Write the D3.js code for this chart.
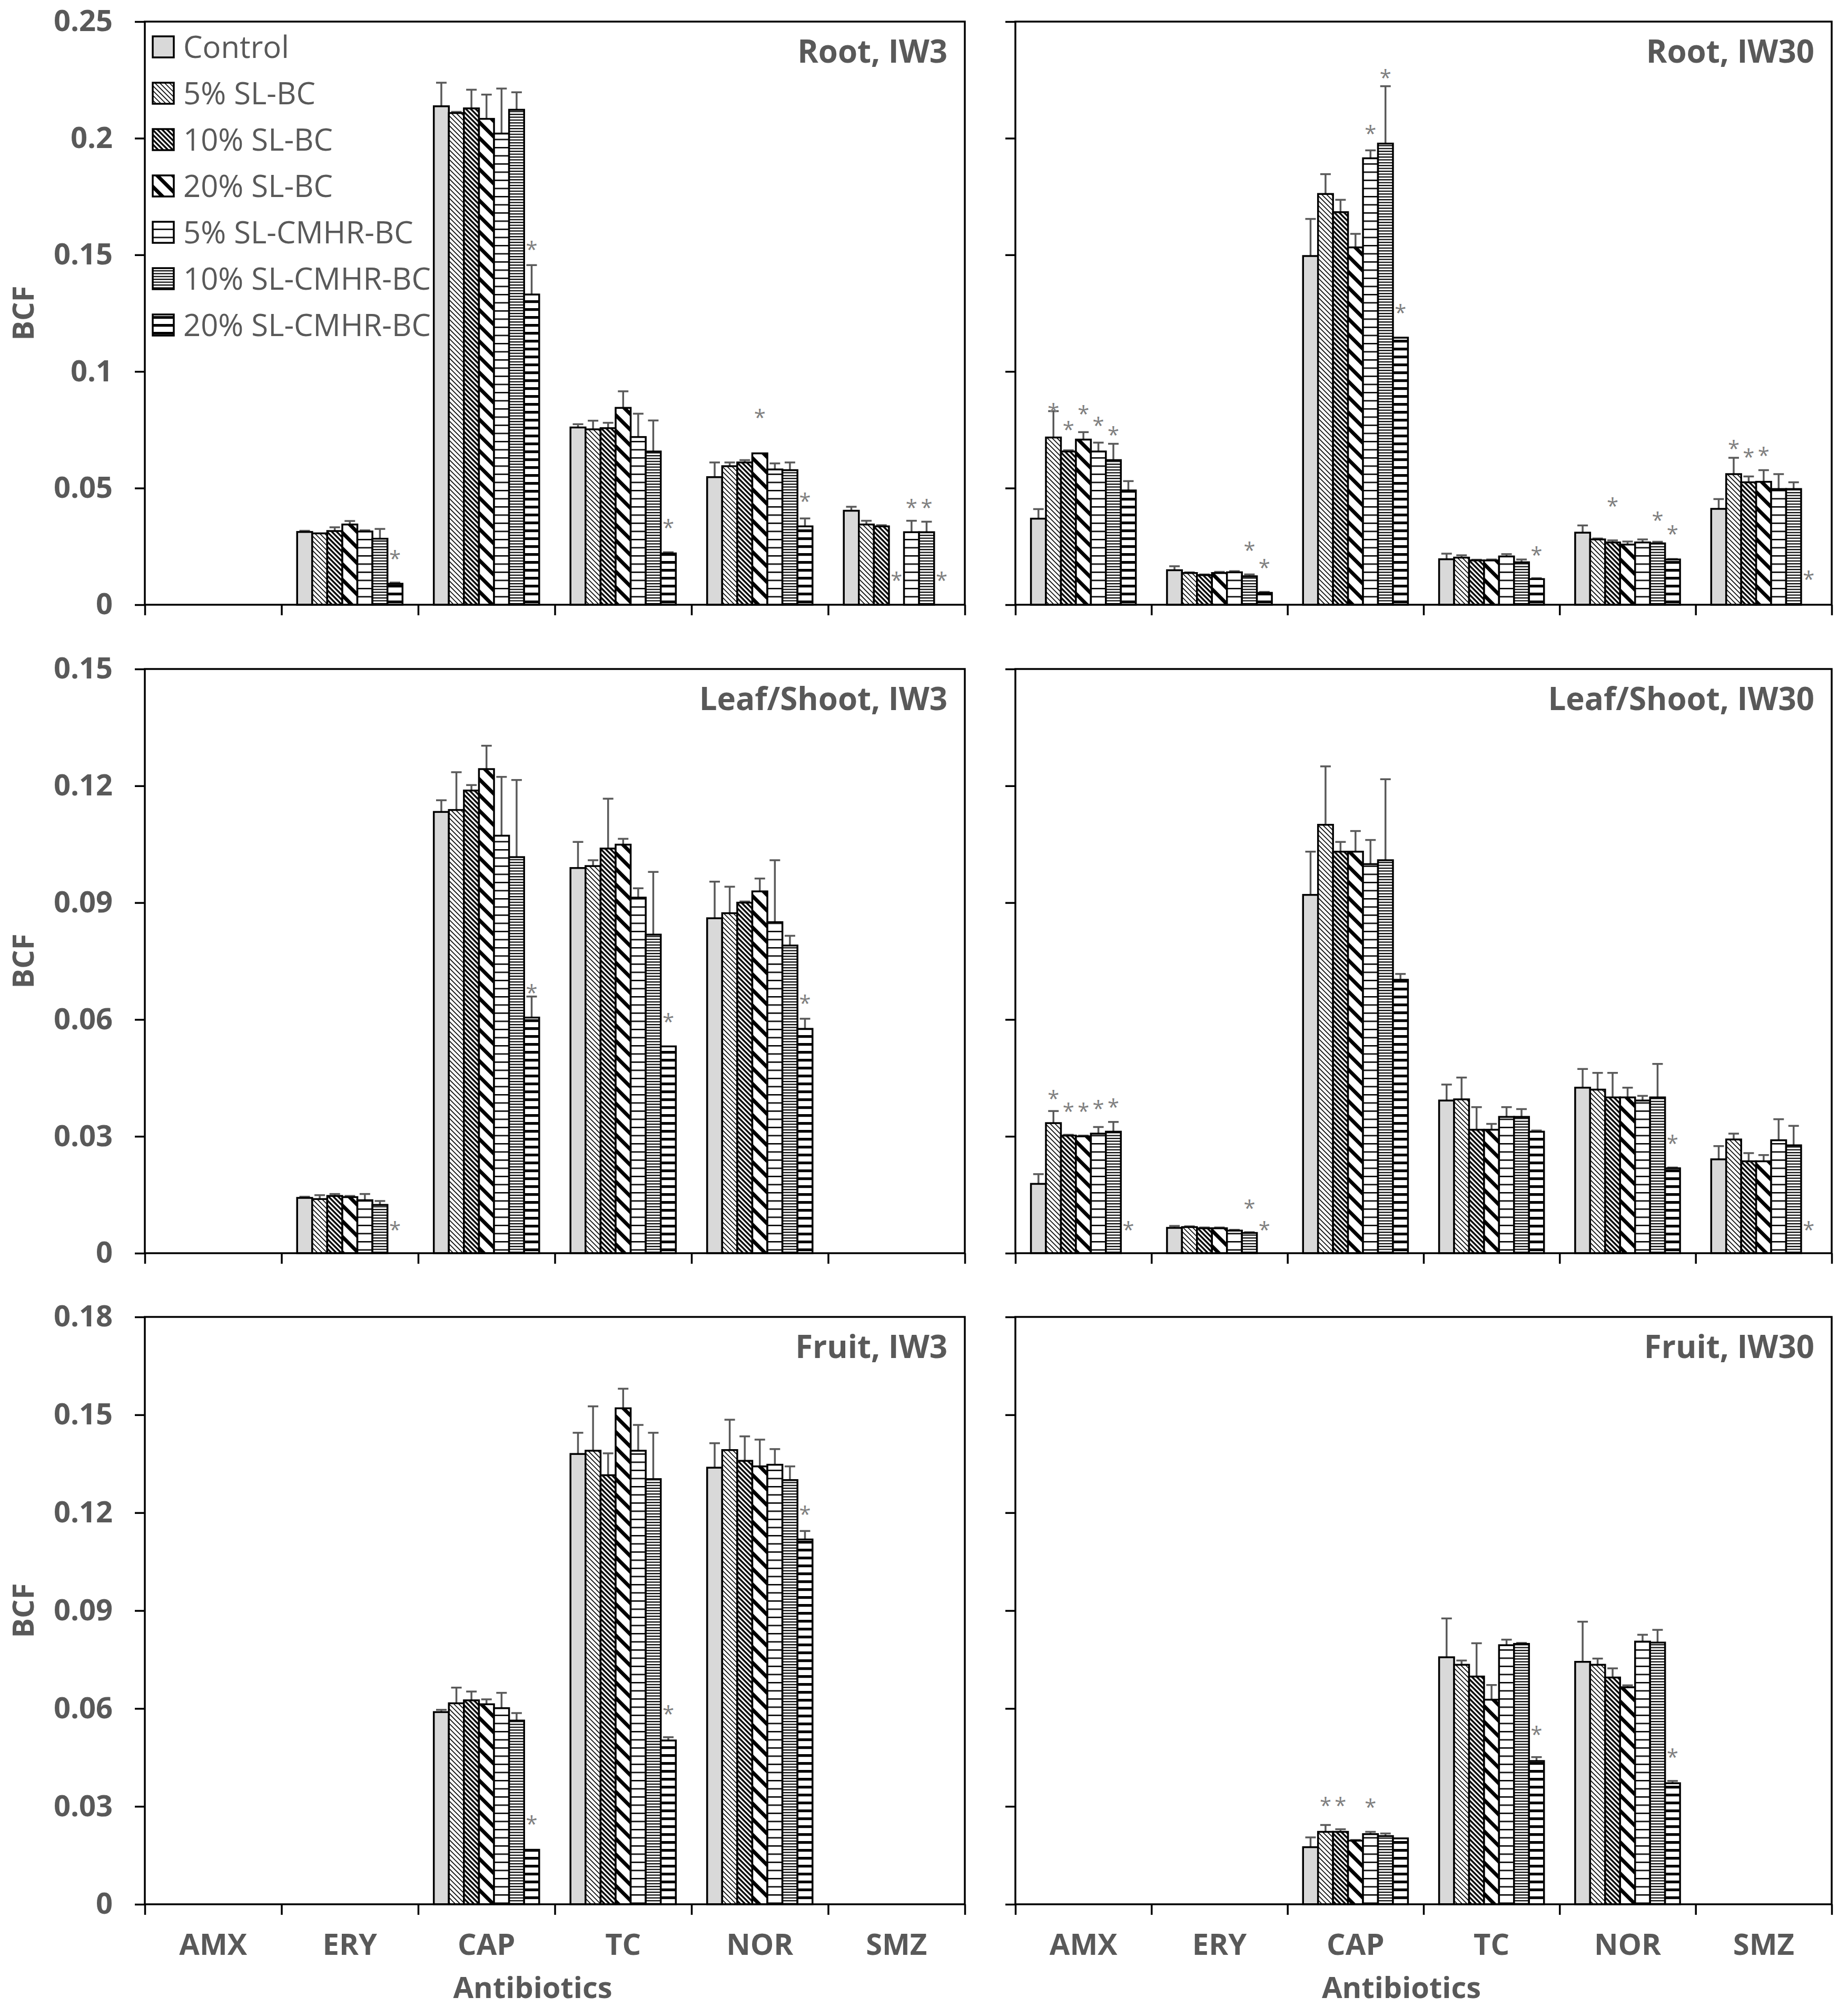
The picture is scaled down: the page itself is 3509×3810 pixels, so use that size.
<!DOCTYPE html>
<html>
<head>
<meta charset="utf-8">
<script src="https://cdn.jsdelivr.net/npm/d3@7"></script>
<style>
body { margin: 0; background: #fff; }
text { font-family: "Open Sans", "Noto Sans", sans-serif; }
</style>
</head>
<body>
<script>
var categories = ["AMX", "ERY", "CAP", "TC", "NOR", "SMZ"];
var series = ["Control", "5% SL-BC", "10% SL-BC", "20% SL-BC",
              "5% SL-CMHR-BC", "10% SL-CMHR-BC", "20% SL-CMHR-BC"];

var rootTicks = [0, 0.05, 0.1, 0.15, 0.2, 0.25];
var leafTicks = [0, 0.03, 0.06, 0.09, 0.12, 0.15];
var fruitTicks = [0, 0.03, 0.06, 0.09, 0.12, 0.15, 0.18];

// one row per antibiotic, one value per treatment
var rootIW3 = [
  [0, 0, 0, 0, 0, 0, 0],
  [0.0312, 0.0306, 0.0316, 0.0344, 0.0314, 0.0283, 0.0090],
  [0.2137, 0.2108, 0.2128, 0.2083, 0.2020, 0.2122, 0.1330],
  [0.0760, 0.0752, 0.0757, 0.0844, 0.0719, 0.0657, 0.0220],
  [0.0547, 0.0594, 0.0610, 0.0649, 0.0580, 0.0577, 0.0336],
  [0.0403, 0.0344, 0.0336, 0, 0.0311, 0.0311, 0]
];
var rootIW3Err = [
  [0, 0, 0, 0, 0, 0, 0],
  [0.0005, 0, 0.0016, 0.0015, 0.0005, 0.0042, 0.0005],
  [0.0101, 0.0005, 0.0080, 0.0104, 0.0193, 0.0075, 0.0126],
  [0.0014, 0.0037, 0.0023, 0.0071, 0.0100, 0.0133, 0.0005],
  [0.0063, 0.0016, 0.0010, 0, 0.0026, 0.0033, 0.0034],
  [0.0017, 0.0016, 0.0005, 0, 0.0049, 0.0045, 0]
];
var rootIW3Stars = [[1, 6, 0.0214], [2, 6, 0.154], [3, 6, 0.0348], [4, 3, 0.0819],
  [4, 6, 0.046], [5, 3, 0.0123], [5, 4, 0.0433], [5, 5, 0.0433], [5, 6, 0.0123]];

var rootIW30 = [
  [0.0369, 0.0717, 0.0657, 0.0708, 0.0657, 0.0620, 0.0490],
  [0.0148, 0.0136, 0.0127, 0.0136, 0.0139, 0.0122, 0.0051],
  [0.1495, 0.1761, 0.1683, 0.1532, 0.1914, 0.1977, 0.1145],
  [0.0195, 0.0202, 0.0190, 0.0190, 0.0207, 0.0182, 0.0110],
  [0.0309, 0.0280, 0.0267, 0.0258, 0.0267, 0.0263, 0.0194],
  [0.0411, 0.0560, 0.0525, 0.0527, 0.0496, 0.0496, 0]
];
var rootIW30Err = [
  [0.0041, 0.0113, 0.0005, 0.0032, 0.0038, 0.0070, 0.0040],
  [0.0017, 0.0003, 0.0003, 0.0005, 0.0005, 0.0008, 0.0004],
  [0.0159, 0.0085, 0.0053, 0.0058, 0.0034, 0.0246, 0],
  [0.0024, 0.0010, 0.0003, 0.0004, 0.0010, 0.0012, 0.0004],
  [0.0031, 0.0004, 0.0009, 0.0013, 0.0013, 0.0007, 0.0002],
  [0.0042, 0.0070, 0.0025, 0.0050, 0.0064, 0.0029, 0]
];
var rootIW30Stars = [[0, 1, 0.0844], [0, 2, 0.0768], [0, 3, 0.0835], [0, 4, 0.0785],
  [0, 5, 0.0745], [1, 5, 0.0250], [1, 6, 0.0177], [2, 4, 0.2036], [2, 5, 0.2276],
  [2, 6, 0.127], [3, 6, 0.023], [4, 2, 0.044], [4, 5, 0.038], [4, 6, 0.032],
  [5, 1, 0.0686], [5, 2, 0.065], [5, 3, 0.0657], [5, 6, 0.0126]];

var leafIW3 = [
  [0, 0, 0, 0, 0, 0, 0],
  [0.0142, 0.0139, 0.0147, 0.0144, 0.0136, 0.0124, 0],
  [0.1133, 0.1138, 0.1188, 0.1243, 0.1072, 0.1017, 0.0605],
  [0.0989, 0.0994, 0.1039, 0.1049, 0.0913, 0.0818, 0.0531],
  [0.0860, 0.0873, 0.0900, 0.0929, 0.0850, 0.0790, 0.0576],
  [0, 0, 0, 0, 0, 0, 0]
];
var leafIW3Err = [
  [0, 0, 0, 0, 0, 0, 0],
  [0.0003, 0.0010, 0.0005, 0.0003, 0.0016, 0.0010, 0],
  [0.0030, 0.0097, 0.0014, 0.0060, 0.0151, 0.0198, 0.0054],
  [0.0067, 0.0015, 0.0128, 0.0015, 0.0024, 0.0161, 0],
  [0.0094, 0.0068, 0.0003, 0.0033, 0.0159, 0.0025, 0.0026],
  [0, 0, 0, 0, 0, 0, 0]
];
var leafIW3Stars = [[1, 6, 0.007], [2, 6, 0.0679], [3, 6, 0.0604], [4, 6, 0.0652]];

var leafIW30 = [
  [0.0178, 0.0334, 0.0302, 0.0300, 0.0307, 0.0312, 0],
  [0.0065, 0.0067, 0.0064, 0.0064, 0.0058, 0.0052, 0],
  [0.0920, 0.1100, 0.1031, 0.1031, 0.0999, 0.1009, 0.0702],
  [0.0392, 0.0395, 0.0317, 0.0317, 0.0350, 0.0350, 0.0312],
  [0.0425, 0.0420, 0.0400, 0.0400, 0.0392, 0.0400, 0.0218],
  [0.0241, 0.0292, 0.0236, 0.0236, 0.0290, 0.0277, 0]
];
var leafIW30Err = [
  [0.0025, 0.0031, 0.0002, 0.0002, 0.0017, 0.0025, 0],
  [0.0005, 0.0002, 0.0002, 0.0002, 0.0002, 0.0002, 0],
  [0.0111, 0.0150, 0.0025, 0.0053, 0.0062, 0.0208, 0.0015],
  [0.0041, 0.0056, 0.0058, 0.0015, 0.0025, 0.0020, 0.0003],
  [0.0048, 0.0043, 0.0063, 0.0025, 0.0012, 0.0086, 0.0002],
  [0.0034, 0.0015, 0.0021, 0.0016, 0.0054, 0.0050, 0]
];
var leafIW30Stars = [[0, 1, 0.0407], [0, 2, 0.0375], [0, 3, 0.0375], [0, 4, 0.0382],
  [0, 5, 0.0385], [0, 6, 0.007], [1, 5, 0.0126], [1, 6, 0.007], [4, 6, 0.0292], [5, 6, 0.007]];

var fruitIW3 = [
  [0, 0, 0, 0, 0, 0, 0],
  [0, 0, 0, 0, 0, 0, 0],
  [0.0589, 0.0616, 0.0625, 0.0613, 0.0601, 0.0563, 0.0167],
  [0.1380, 0.1390, 0.1315, 0.1520, 0.1390, 0.1303, 0.0502],
  [0.1338, 0.1392, 0.1359, 0.1342, 0.1347, 0.1300, 0.1118],
  [0, 0, 0, 0, 0, 0, 0]
];
var fruitIW3Err = [
  [0, 0, 0, 0, 0, 0, 0],
  [0, 0, 0, 0, 0, 0, 0],
  [0.0007, 0.0048, 0.0027, 0.0015, 0.0047, 0.0023, 0],
  [0.0065, 0.0136, 0.0067, 0.0060, 0.0079, 0.0142, 0.0010],
  [0.0075, 0.0093, 0.0075, 0.0082, 0.0048, 0.0042, 0.0026],
  [0, 0, 0, 0, 0, 0, 0]
];
var fruitIW3Stars = [[2, 6, 0.0258], [3, 6, 0.0595], [4, 6, 0.1207]];

var fruitIW30 = [
  [0, 0, 0, 0, 0, 0, 0],
  [0, 0, 0, 0, 0, 0, 0],
  [0.0175, 0.0222, 0.0222, 0.0195, 0.0215, 0.0209, 0.0202],
  [0.0757, 0.0734, 0.0698, 0.0627, 0.0794, 0.0798, 0.0439],
  [0.0743, 0.0734, 0.0695, 0.0665, 0.0805, 0.0802, 0.0371],
  [0, 0, 0, 0, 0, 0, 0]
];
var fruitIW30Err = [
  [0, 0, 0, 0, 0, 0, 0],
  [0, 0, 0, 0, 0, 0, 0],
  [0.0030, 0.0021, 0.0008, 0.0002, 0.0007, 0.0008, 0],
  [0.0119, 0.0013, 0.0102, 0.0045, 0.0017, 0.0003, 0.0012],
  [0.0123, 0.0019, 0.0028, 0.0006, 0.0021, 0.0039, 0.0007],
  [0, 0, 0, 0, 0, 0, 0]
];
var fruitIW30Stars = [[2, 1, 0.0314], [2, 2, 0.0314], [2, 4, 0.031], [3, 6, 0.0532], [4, 6, 0.0464]];

var panels = [
  {title: "Root, IW3", v: rootIW3, e: rootIW3Err, s: rootIW3Stars, row: 0, col: 0},
  {title: "Root, IW30", v: rootIW30, e: rootIW30Err, s: rootIW30Stars, row: 0, col: 1},
  {title: "Leaf/Shoot, IW3", v: leafIW3, e: leafIW3Err, s: leafIW3Stars, row: 1, col: 0},
  {title: "Leaf/Shoot, IW30", v: leafIW30, e: leafIW30Err, s: leafIW30Stars, row: 1, col: 1},
  {title: "Fruit, IW3", v: fruitIW3, e: fruitIW3Err, s: fruitIW3Stars, row: 2, col: 0},
  {title: "Fruit, IW30", v: fruitIW30, e: fruitIW30Err, s: fruitIW30Stars, row: 2, col: 1}
];

var cols = [{x0: 275, x1: 1832}, {x0: 1928, x1: 3478}];
var rows = [
  {top: 41, zero: 1148, ticks: rootTicks},
  {top: 1270, zero: 2379, ticks: leafTicks},
  {top: 2500, zero: 3615, ticks: fruitTicks}
];
var grey = "#595959";

var svg = d3.select("body").append("svg")
    .attr("width", 3509)
    .attr("height", 3810);

var defs = svg.append("defs");
function hatch(id, size, thick, angle) {
  var p = defs.append("pattern")
      .attr("id", id)
      .attr("patternUnits", "userSpaceOnUse")
      .attr("width", size)
      .attr("height", size)
      .attr("patternTransform", "rotate(" + angle + ")");
  p.append("rect").attr("width", size).attr("height", size).attr("fill", "#fff");
  p.append("rect").attr("width", size).attr("height", thick).attr("fill", "#000");
}
hatch("p1", 6.5, 1.7, 45);
hatch("p2", 6.5, 3.4, 45);
hatch("p3", 21, 7, 45);
hatch("p4", 15.5, 2.6, 0);
hatch("p5", 5.4, 2.2, 0);
hatch("p6", 15, 5.2, 0);
var fills = ["#d9d9d9", "url(#p1)", "url(#p2)", "url(#p3)", "url(#p4)", "url(#p5)", "url(#p6)"];

// legend (drawn first so the bars sit over it, as in the original)
var legend = svg.append("g");
series.forEach(function(name, i) {
  var cy = 89 + i * 88;
  legend.append("rect")
      .attr("x", 290).attr("y", cy - 20)
      .attr("width", 40).attr("height", 40)
      .attr("fill", fills[i])
      .attr("stroke", "#000").attr("stroke-width", 3.5);
  legend.append("text")
      .attr("x", 348).attr("y", cy).attr("dy", "0.36em")
      .attr("font-size", 58).attr("fill", grey)
      .text(name);
});

panels.forEach(function(p) {
  var c = cols[p.col], r = rows[p.row];
  var yMax = r.ticks[r.ticks.length - 1];
  var x = d3.scaleBand().domain(categories).range([c.x0, c.x1])
      .paddingInner(0.229).paddingOuter(0.1145);
  var xs = d3.scaleBand().domain(d3.range(series.length)).range([0, x.bandwidth()]);
  var xb = d3.scaleLinear().domain([0, categories.length]).range([c.x0, c.x1]);
  var y = d3.scaleLinear().domain([0, yMax]).range([r.zero, r.top]);
  var g = svg.append("g");

  var flat = [];
  p.v.forEach(function(vals, ci) {
    vals.forEach(function(v, si) {
      if (v > 0) flat.push({cat: categories[ci], s: si, v: v, e: p.e[ci][si]});
    });
  });

  // error bars (upper only)
  var eb = g.selectAll(".err").data(flat.filter(function(d) { return d.e > 0; }))
    .enter().append("g").attr("class", "err")
      .attr("stroke", grey).attr("stroke-width", 3.5);
  eb.append("line")
      .attr("x1", function(d) { return x(d.cat) + xs(d.s) + xs.bandwidth() / 2; })
      .attr("x2", function(d) { return x(d.cat) + xs(d.s) + xs.bandwidth() / 2; })
      .attr("y1", function(d) { return y(d.v); })
      .attr("y2", function(d) { return y(d.v + d.e); });
  eb.append("line")
      .attr("x1", function(d) { return x(d.cat) + xs(d.s) + xs.bandwidth() / 2 - 10; })
      .attr("x2", function(d) { return x(d.cat) + xs(d.s) + xs.bandwidth() / 2 + 10; })
      .attr("y1", function(d) { return y(d.v + d.e); })
      .attr("y2", function(d) { return y(d.v + d.e); });

  g.selectAll(".bar").data(flat).enter().append("rect")
      .attr("class", "bar")
      .attr("x", function(d) { return x(d.cat) + xs(d.s); })
      .attr("y", function(d) { return y(d.v); })
      .attr("width", xs.bandwidth())
      .attr("height", function(d) { return y(0) - y(d.v); })
      .attr("fill", function(d) { return fills[d.s]; })
      .attr("stroke", "#000").attr("stroke-width", 3.5);

  // significance marks
  g.selectAll(".star").data(p.s).enter().append("text")
      .attr("class", "star")
      .attr("x", function(d) { return x(categories[d[0]]) + xs(d[1]) + xs.bandwidth() / 2; })
      .attr("y", function(d) { return y(d[2]) + 22; })
      .attr("text-anchor", "middle")
      .attr("font-size", 40).attr("fill", "#7f7f7f")
      .text("*");

  // y axis
  var ya = g.append("g").attr("transform", "translate(" + c.x0 + ",0)")
      .call(d3.axisLeft(y).tickValues(r.ticks).tickSize(19).tickPadding(42)
        .tickFormat(p.col === 0 ? function(d) { return String(+d.toFixed(2)); } : ""));
  ya.select(".domain").remove();
  ya.selectAll("line").attr("stroke", "#000").attr("stroke-width", 3.5);
  ya.selectAll("text").attr("font-size", 56).attr("font-weight", "bold")
      .attr("fill", grey).attr("font-family", "'Open Sans', sans-serif");

  // x axis tick marks at category boundaries
  var xa = g.append("g").attr("transform", "translate(0," + r.zero + ")")
      .call(d3.axisBottom(xb).tickValues(d3.range(categories.length + 1))
        .tickSize(20).tickFormat(""));
  xa.select(".domain").remove();
  xa.selectAll("line").attr("stroke", "#000").attr("stroke-width", 3.5);

  if (p.row === 2) {
    var xl = g.append("g").attr("transform", "translate(0," + r.zero + ")")
        .call(d3.axisBottom(x).tickSize(0).tickPadding(56));
    xl.select(".domain").remove();
    xl.selectAll("text").attr("font-size", 56).attr("font-weight", "bold")
        .attr("fill", grey).attr("font-family", "'Open Sans', sans-serif");
    g.append("text")
        .attr("x", (c.x0 + c.x1) / 2 - 42)
        .attr("y", 3793)
        .attr("text-anchor", "middle")
        .attr("font-size", 56).attr("font-weight", "bold").attr("fill", grey)
        .text("Antibiotics");
  }

  // plot frame
  g.append("rect")
      .attr("x", c.x0).attr("y", r.top)
      .attr("width", c.x1 - c.x0).attr("height", r.zero - r.top)
      .attr("fill", "none").attr("stroke", "#000").attr("stroke-width", 3.5);

  g.append("text")
      .attr("x", c.x1 - 33).attr("y", r.top + 78)
      .attr("text-anchor", "end")
      .attr("font-size", 60).attr("font-weight", "bold").attr("fill", grey)
      .text(p.title);

  if (p.col === 0) {
    g.append("text")
        .attr("transform", "translate(64," + (r.top + r.zero) / 2 + ") rotate(-90)")
        .attr("text-anchor", "middle")
        .attr("font-size", 56).attr("font-weight", "bold").attr("fill", grey)
        .text("BCF");
  }
});
</script>
</body>
</html>
